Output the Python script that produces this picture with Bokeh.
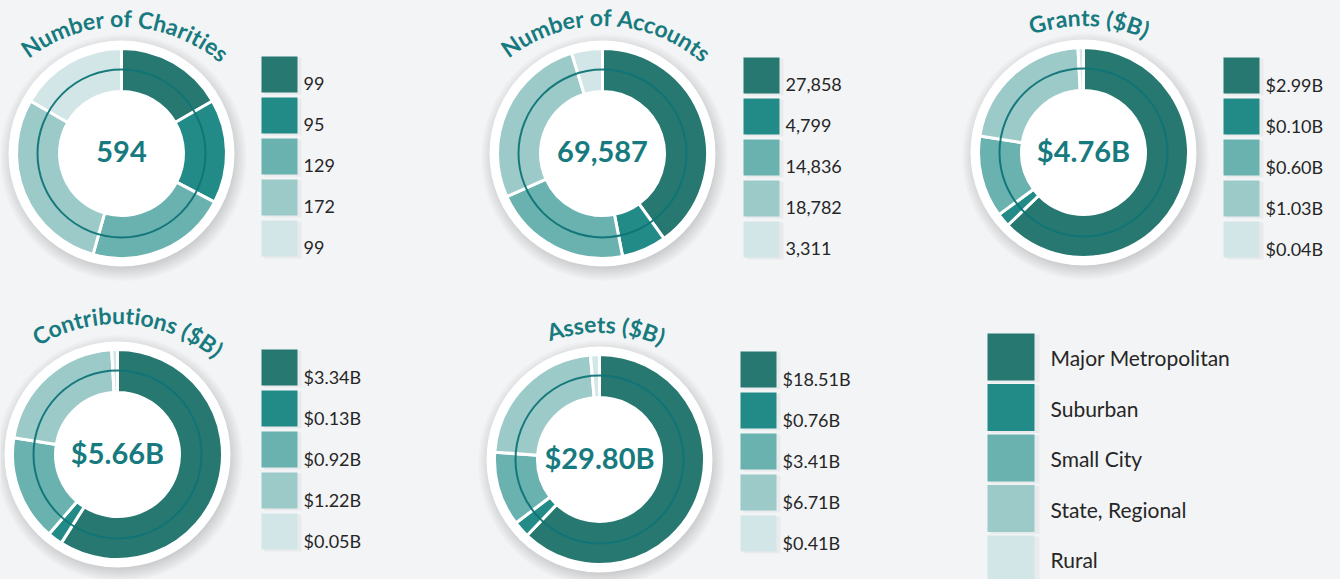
import math
from bokeh.plotting import figure
from bokeh.models import Range1d, ColumnDataSource
from bokeh.embed import file_html
from bokeh.resources import INLINE
from bokeh.core.properties import value

# ---------------- data ----------------
categories = ["Major Metropolitan", "Suburban", "Small City", "State, Regional", "Rural"]
colors = ["#267870", "#238b87", "#6ab2af", "#9ccac9", "#d3e6e7"]

titles = ["Number of Charities", "Number of Accounts", "Grants ($B)",
          "Contributions ($B)", "Assets ($B)"]
totals = ["594", "69,587", "$4.76B", "$5.66B", "$29.80B"]

charities = [99, 95, 129, 172, 99]
accounts = [27858, 4799, 14836, 18782, 3311]
grants = [2.99, 0.10, 0.60, 1.03, 0.04]
contributions = [3.34, 0.13, 0.92, 1.22, 0.05]
assets = [18.51, 0.76, 3.41, 6.71, 0.41]

series = [charities, accounts, grants, contributions, assets]
is_money = [False, False, True, True, True]

# ---------------- layout ----------------
PAGE_H = 579
W, H = 1340, 579
FONT = "Lato"
BG = "#f3f4f6"
TEAL = "#177a7e"
TXT = "#262626"
BASE_FIX = 0.37  # baseline correction (em) for the svg text renderer

def Y(py):
    return PAGE_H - py

centers = [(121, 153), (602, 153), (1083, 152), (117, 454), (599, 459)]
legend_x = [261, 743, 1223, 261, 740]
legend_top = [56, 57, 57, 349, 351]
title_top = [127, 128, 127, 131, 127]
title_shift = [4, 4, 6, 12, 7]

p = figure(width=W, height=H, x_range=Range1d(0, W), y_range=Range1d(0, H),
           output_backend="svg", toolbar_location=None,
           x_axis_location=None, y_axis_location=None, min_border=0,
           background_fill_color=BG, border_fill_color=BG, outline_line_color=None)
p.grid.visible = False

CW = {
    'A': .69, 'B': .66, 'C': .68, 'G': .74, 'N': .76, 'S': .54,
    'a': .51, 'b': .57, 'c': .47, 'e': .54, 'f': .35, 'h': .57, 'i': .26,
    'm': .86, 'n': .57, 'o': .57, 'r': .38, 's': .43, 't': .37, 'u': .57,
    ' ': .22, '(': .31, ')': .31, '$': .58,
}


def curved_title(text, cx, cy, top_off, shift, R=152.0, fs=23, track=0.6):
    acy = cy + top_off - R
    Rp = R + BASE_FIX * fs
    theta_c = math.pi / 2 - shift / Rp
    widths = [CW.get(ch, .55) * fs + track for ch in text]
    total = sum(widths) - track
    xs, ys, angs, chars = [], [], [], []
    s = 0.0
    for ch, w in zip(text, widths):
        mid = s + (w - track) / 2
        s += w
        if ch == ' ':
            continue
        th = theta_c + (total / 2 - mid) / Rp
        xs.append(cx + Rp * math.cos(th))
        ys.append(acy + Rp * math.sin(th))
        angs.append(th - math.pi / 2)
        chars.append(ch)
    p.text(x=xs, y=ys, text=chars, angle=angs, text_align="center",
           text_baseline="alphabetic", text_font=value(FONT), text_font_style="bold",
           text_font_size=f"{fs}px", text_color=TEAL)


for idx, vals in enumerate(series):
    cx, cyp = centers[idx]
    cy = Y(cyp)

    # soft shadow of the white disc
    for k in range(10):
        p.circle(x=[cx + 2], y=[cy - 4], radius=110 + k * 1.5,
                 fill_color="#000000", fill_alpha=0.014, line_color=None)
    p.circle(x=[cx], y=[cy], radius=113, fill_color="white", line_color=None)

    total = sum(vals)
    starts, ends = [], []
    c = 0.0
    for v in vals:
        starts.append(math.pi / 2 - 2 * math.pi * c / total)
        c += v
        ends.append(math.pi / 2 - 2 * math.pi * c / total)
    src = ColumnDataSource(dict(x=[cx] * len(vals), y=[cy] * len(vals),
                                start=starts, end=ends, color=colors))
    p.annular_wedge(x="x", y="y", inner_radius=62, outer_radius=105,
                    start_angle="start", end_angle="end", direction="clock",
                    fill_color="color", line_color="white", line_width=3, source=src)

    p.circle(x=[cx], y=[cy], radius=84, fill_color=None,
             line_color="#0f7477", line_width=2, line_alpha=0.95)

    p.text(x=[cx], y=[Y(cyp + 9) + BASE_FIX * 29], text=[totals[idx]], text_align="center",
           text_baseline="alphabetic", text_font=value(FONT), text_font_style="bold",
           text_font_size="29px", text_color=TEAL)

    curved_title(titles[idx], cx, cy, title_top[idx], title_shift[idx])

    # small legend with values
    lx = legend_x[idx]
    tops = [legend_top[idx] + 41 * i for i in range(len(vals))]
    p.quad(left=[lx + 3] * 5, right=[lx + 40] * 5, top=[Y(t + 1) for t in tops],
           bottom=[Y(t + 38) for t in tops], fill_color="#000000", fill_alpha=0.04,
           line_color=None)
    p.quad(left=[lx] * 5, right=[lx + 36] * 5, top=[Y(t) for t in tops],
           bottom=[Y(t + 36) for t in tops], fill_color=colors, line_color=None)
    if is_money[idx]:
        labels = ["${:.2f}B".format(v) for v in vals]
    else:
        labels = ["{:,}".format(v) for v in vals]
    p.text(x=[lx + 42] * 5, y=[Y(t + 34) + BASE_FIX * 18 for t in tops], text=labels,
           text_align="left", text_baseline="alphabetic", text_font=value(FONT),
           text_font_size="18px", text_color=TXT)

# big category legend
big_tops = [333 + 50.5 * i for i in range(len(categories))]
p.quad(left=[990] * 5, right=[1039] * 5, top=[Y(t + 1) for t in big_tops],
       bottom=[Y(t + 49) for t in big_tops], fill_color="#000000", fill_alpha=0.04,
       line_color=None)
p.quad(left=[987] * 5, right=[1034] * 5, top=[Y(t) for t in big_tops],
       bottom=[Y(t + 47) for t in big_tops], fill_color=colors, line_color=None)
p.text(x=[1050] * 5, y=[Y(t + 32) + BASE_FIX * 21 for t in big_tops], text=categories,
       text_align="left", text_baseline="alphabetic", text_font=value(FONT),
       text_font_size="21px", text_color=TXT)

html = file_html(p, INLINE)
html = html.replace("<head>", "<head><style>body{background:%s;}</style>" % BG, 1)
open("out.html", "w").write(html)
